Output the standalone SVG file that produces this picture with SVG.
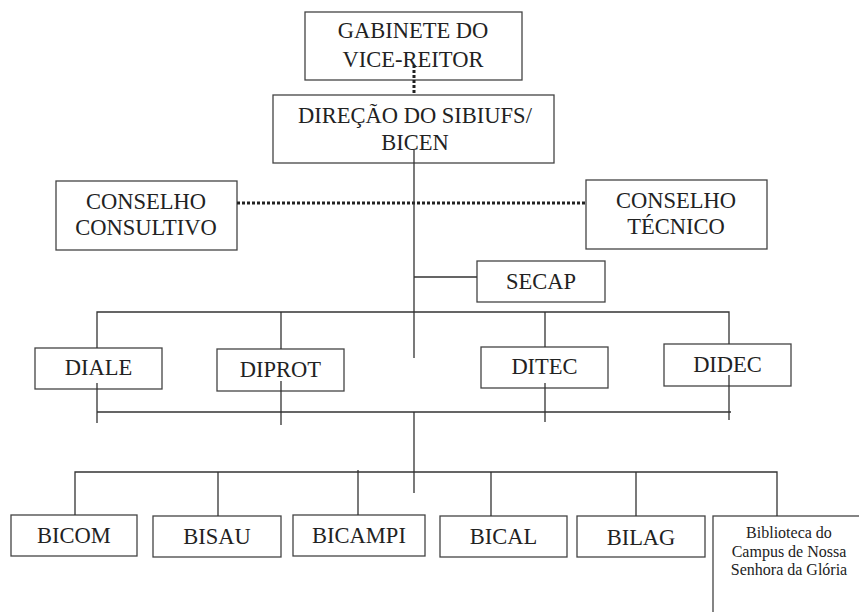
<svg xmlns="http://www.w3.org/2000/svg" width="859" height="612" viewBox="0 0 859 612">
<style>
.box{fill:#fff;stroke:#444;stroke-width:1.3}
.t{font-family:"Liberation Serif","Times New Roman",serif;font-size:22.5px;fill:#222;text-anchor:middle}
.s{font-family:"Liberation Serif","Times New Roman",serif;font-size:16px;fill:#222;text-anchor:middle}
.ln{stroke:#333;stroke-width:1.3;fill:none}
.dot{stroke:#222;stroke-width:3;stroke-dasharray:3 2;fill:none}
</style>
<rect width="859" height="612" fill="#fff"/>
<g id="nodes">
<g id="gabinete"><rect class="box" x="305" y="12" width="217" height="68"/><text class="t" x="413" y="38">GABINETE DO</text><text class="t" x="413" y="67">VICE-REITOR</text></g>
<g id="direcao"><rect class="box" x="273" y="95" width="281" height="68"/><text class="t" x="415" y="123">DIREÇÃO DO SIBIUFS/</text><text class="t" x="415" y="150">BICEN</text></g>
<g id="consultivo"><rect class="box" x="56" y="181" width="181" height="69"/><text class="t" x="146" y="209">CONSELHO</text><text class="t" x="146" y="235">CONSULTIVO</text></g>
<g id="tecnico"><rect class="box" x="586" y="180" width="181" height="69"/><text class="t" x="676" y="208">CONSELHO</text><text class="t" x="676" y="234">TÉCNICO</text></g>
<g id="secap"><rect class="box" x="477" y="261" width="128" height="41"/><text class="t" x="541" y="289">SECAP</text></g>
<g id="diale"><rect class="box" x="35" y="348" width="127" height="41"/><text class="t" x="98.5" y="375">DIALE</text></g>
<g id="diprot"><rect class="box" x="217" y="349" width="127" height="42"/><text class="t" x="280.5" y="377">DIPROT</text></g>
<g id="ditec"><rect class="box" x="481" y="347" width="127" height="41"/><text class="t" x="544.5" y="374">DITEC</text></g>
<g id="didec"><rect class="box" x="664" y="344" width="127" height="42"/><text class="t" x="727.5" y="372">DIDEC</text></g>
<g id="bicom"><rect class="box" x="11" y="515" width="126" height="41"/><text class="t" x="74" y="543">BICOM</text></g>
<g id="bisau"><rect class="box" x="153" y="516" width="128" height="41"/><text class="t" x="217" y="544">BISAU</text></g>
<g id="bicampi"><rect class="box" x="293" y="515" width="132" height="41"/><text class="t" x="359" y="543">BICAMPI</text></g>
<g id="bical"><rect class="box" x="440" y="516" width="127" height="41"/><text class="t" x="503.5" y="544">BICAL</text></g>
<g id="bilag"><rect class="box" x="577" y="516" width="128" height="41"/><text class="t" x="641" y="545">BILAG</text></g>
<g id="biblioteca"><rect class="box" x="713" y="516" width="170" height="120"/><text class="s" x="789" y="538">Biblioteca do</text><text class="s" x="789" y="557">Campus de Nossa</text><text class="s" x="789" y="575">Senhora da Glória</text></g>
</g>
<g id="connectors">
<path class="dot" d="M414 65V94"/>
<path class="dot" d="M237 203H585"/>
<path class="ln" d="M414 150V358M414 277H477"/>
<path class="ln" d="M97 348V312H729V344M281 312V349M545 312V347"/>
<path class="ln" d="M97 383V423M281 381V425M545 383V422M729 375V420M97 412H731"/>
<path class="ln" d="M414 412V493M75 515V472H777V516M218 472V516M358 470V515M491 472V516M636 472V516"/>
</g>
</svg>
